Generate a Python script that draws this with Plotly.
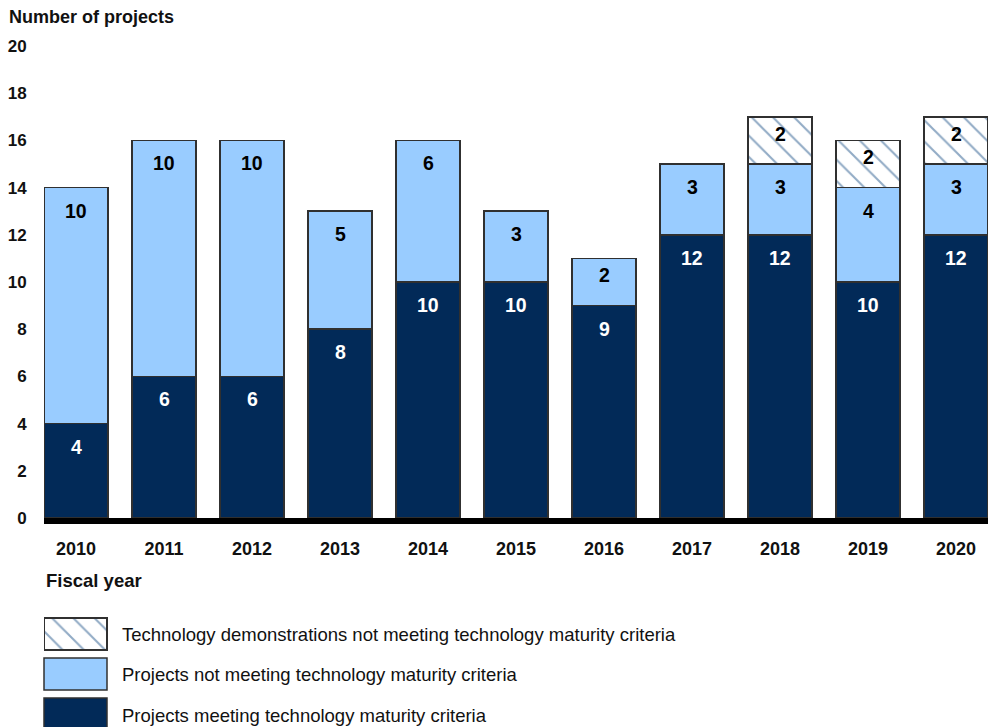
import plotly.graph_objects as go

# Fiscal years and project counts per category
years = ["2010", "2011", "2012", "2013", "2014", "2015", "2016", "2017", "2018", "2019", "2020"]
meeting = [4, 6, 6, 8, 10, 10, 9, 12, 12, 10, 12]
not_meeting = [10, 10, 10, 5, 6, 3, 2, 3, 3, 4, 3]
tech_demo = [0, 0, 0, 0, 0, 0, 0, 0, 2, 2, 2]

legend_labels = [
    "Technology demonstrations not meeting technology maturity criteria",
    "Projects not meeting technology maturity criteria",
    "Projects meeting technology maturity criteria",
]

NAVY = "#022a58"
LIGHT = "#99ccff"
HATCH = "#25588c"
EDGE = "#303030"
FONT = "Liberation Sans, Arial, sans-serif"

W, H = 988, 727
M_T, M_L = 46, 44
PLOT_AREA_BOTTOM = H - 10      # lower edge of the plotting region in pixels
PLOT_BOTTOM = 518              # pixel row of the zero line
paper_h = PLOT_AREA_BOTTOM - M_T
main_dom_lo = (PLOT_AREA_BOTTOM - PLOT_BOTTOM) / paper_h

hatch = dict(shape="\\", fgcolor=HATCH, bgcolor="white", size=15, solidity=0.14)
line = dict(color=EDGE, width=1.5)

fig = go.Figure()
fig.add_trace(go.Bar(x=years, y=meeting, marker=dict(color=NAVY, line=line),
                     name=legend_labels[2], showlegend=False))
fig.add_trace(go.Bar(x=years, y=not_meeting, marker=dict(color=LIGHT, line=line),
                     name=legend_labels[1], showlegend=False))
fig.add_trace(go.Bar(x=years, y=[v if v else None for v in tech_demo],
                     marker=dict(color="white", line=line, pattern=hatch),
                     name=legend_labels[0], showlegend=False))

# Value labels near the top of each segment (category index used for x)
annotations = []
for i in range(len(years)):
    base = 0
    for vals, col in ((meeting, "white"), (not_meeting, "black"), (tech_demo, "black")):
        v = vals[i]
        if v:
            top = base + v
            annotations.append(dict(x=i, y=top, xref="x", yref="y", text=str(v),
                                    showarrow=False, yshift=-23 if v >= 3 else -17,
                                    font=dict(family=FONT, size=19.5, color=col, weight="bold")))
            base = top


def px_to_paper_y(py):
    return (PLOT_AREA_BOTTOM - py) / paper_h


def px_to_paper_x(px):
    return (px - M_L) / (W - M_L)


# Legend: hatched swatch as a patterned bar on a pixel-scaled axis, solid swatches as shapes
LEG_TOP = 610
leg_dom_hi = (PLOT_AREA_BOTTOM - LEG_TOP) / paper_h
leg_px = [(618, 650), (658, 690), (698, 730)]
SW_X0, SW_X1 = 44, 107
shapes = []
for k, ((top_px, bot_px), lab) in enumerate(zip(leg_px, legend_labels)):
    if k == 0:
        lo, hi = PLOT_AREA_BOTTOM - bot_px, PLOT_AREA_BOTTOM - top_px
        fig.add_trace(go.Bar(x=[(SW_X0 + SW_X1) / 2], y=[hi - lo], base=[lo], width=[SW_X1 - SW_X0],
                             marker=dict(color="white", line=line, pattern=hatch),
                             xaxis="x2", yaxis="y2", showlegend=False, hoverinfo="skip"))
    else:
        shapes.append(dict(type="rect", xref="paper", yref="paper",
                           x0=px_to_paper_x(SW_X0), x1=px_to_paper_x(SW_X1),
                           y0=px_to_paper_y(bot_px), y1=px_to_paper_y(top_px),
                           fillcolor=LIGHT if k == 1 else NAVY, line=line))
    annotations.append(dict(x=px_to_paper_x(120), y=px_to_paper_y((top_px + min(bot_px, 730)) / 2),
                            xref="paper", yref="paper", text=lab,
                            showarrow=False, xanchor="left", yanchor="middle",
                            font=dict(family=FONT, size=18.5, color="#111")))
# keep the third label centred on the visible swatch row
annotations[-1]["y"] = px_to_paper_y(715)

annotations.append(dict(x=px_to_paper_x(7), y=1, xref="paper", yref="paper", yshift=M_T - 17,
                        text="Number of projects", showarrow=False, xanchor="left",
                        yanchor="middle", font=dict(family=FONT, size=18, color="#111", weight="bold")))
annotations.append(dict(x=0, y=main_dom_lo, xref="paper", yref="paper", yshift=-62,
                        text="Fiscal year", showarrow=False, xanchor="left", yanchor="middle",
                        font=dict(family=FONT, size=18.5, color="#111", weight="bold")))

half = 32 / 88
fig.update_layout(
    width=W, height=H, autosize=False,
    margin=dict(l=M_L, r=0, t=M_T, b=0, pad=0),
    barmode="stack", bargap=1 - 64 / 88,
    plot_bgcolor="white", paper_bgcolor="white",
    font=dict(family=FONT, color="#111"),
    xaxis=dict(type="category", range=[-half, len(years) - 1 + half], domain=[0, 1],
               showline=True, linecolor="black", linewidth=6, showgrid=False,
               ticks="outside", ticklen=9, tickcolor="rgba(0,0,0,0)",
               tickfont=dict(family=FONT, size=18, color="#111", weight="bold"),
               anchor="y"),
    yaxis=dict(range=[0, 20], dtick=2, domain=[main_dom_lo, 1], showgrid=False,
               zeroline=False, showline=False, ticks="outside", ticklen=13,
               tickcolor="rgba(0,0,0,0)",
               tickfont=dict(family=FONT, size=17, color="#111", weight="bold"),
               anchor="x"),
    xaxis2=dict(range=[M_L, W], domain=[0, 1], visible=False, anchor="y2"),
    yaxis2=dict(range=[0, PLOT_AREA_BOTTOM - LEG_TOP], domain=[0, leg_dom_hi],
                visible=False, anchor="x2"),
    shapes=shapes,
    annotations=annotations,
)

fig.write_html("out.html")
